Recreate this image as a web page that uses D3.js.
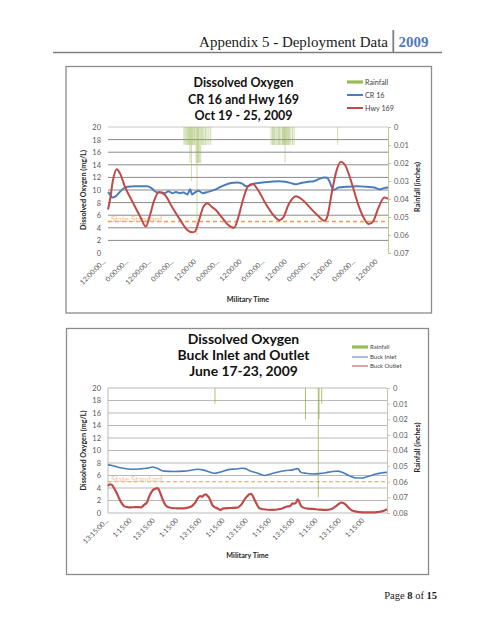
<!DOCTYPE html>
<html><head><meta charset="utf-8">
<script src="https://cdn.jsdelivr.net/npm/d3@7"></script>
<style>html,body{margin:0;padding:0;background:#fff;} svg{display:block}</style>
</head><body>
<svg id="page" width="495" height="640"></svg>
<script>
// ---------- DATA ----------
const headerText = "Appendix 5 - Deployment Data";
const headerYear = "2009";
const footerParts = [["Page ", false], ["8", true], [" of ", false], ["15", true]];

const doTicks = [0, 2, 4, 6, 8, 10, 12, 14, 16, 18, 20];
const stateStandard = 5;

// Chart 1: CR 16 and Hwy 169, Oct 19 - 25, 2009
const chart1Title = ["Dissolved Oxygen", "CR 16 and Hwy 169", "Oct 19 - 25, 2009"];
const chart1Legend = ["Rainfall", "CR 16", "Hwy 169"];
const rain1Ticks = [0, 0.01, 0.02, 0.03, 0.04, 0.05, 0.06, 0.07];
const time1Labels = ["12:00:00...", "0:00:00...", "12:00:00...", "0:00:00...", "12:00:00", "0:00:00...",
  "12:00:00", "0:00:00...", "12:00:00", "0:00:00...", "12:00:00", "0:00:00...", "12:00:00"];
const cr16Hours = [0, 1, 2.3, 4, 6, 8, 10.2, 14, 20.8, 23, 26, 28, 30, 32, 34, 36, 38, 40, 42, 43.5, 44.5, 46, 48, 50, 53,
  57, 61, 65, 68.4, 71, 73, 75, 77, 82, 90.5, 94, 98, 99.5, 102, 106, 109, 112, 114.5, 116, 117, 119.5, 122, 126, 132, 137, 141, 143.5, 146, 148.2];
const cr16DO = [9.7, 9.3, 8.8, 9.0, 9.6, 10.2, 10.5, 10.6, 10.6, 10.3, 9.6, 9.6, 9.5, 9.8, 9.5, 9.7, 9.5, 9.6, 9.3, 10.1, 9.3, 9.6, 9.9, 9.5, 9.7,
  10.1, 10.7, 11.1, 11.2, 11.0, 10.6, 10.7, 11.0, 11.2, 11.4, 11.3, 11.0, 10.9, 11.1, 11.3, 11.4, 11.8, 12.0, 11.95, 11.5, 10.0, 10.4, 10.5, 10.6, 10.5, 10.4, 10.1, 10.3, 10.4];
const hwy169Hours = [0, 1.1, 2.6, 4.6, 6.4, 9, 13.2, 17, 20, 22.2, 24.4, 27, 30.2, 33.9, 38.1, 41.8, 44.6, 46, 48.2, 50.3, 52.6, 55, 57.2,
  60.4, 63.5, 66.7, 68.8, 71.5, 74.1, 76.6, 79.4, 83.1, 86.8, 90.7, 92.7, 95.8, 99.5, 102.7, 106.9, 111.2, 114.5, 115.9, 118.6, 120.7,
  123.3, 125.4, 129.1, 132.3, 135.5, 138, 140.3, 142.9, 146.3, 148.2];
const hwy169DO = [6.9, 8.5, 11.5, 13.3, 12.6, 10.5, 8.0, 5.8, 4.2, 6.0, 8.3, 9.7, 9.2, 7.3, 5.3, 3.7, 3.3, 3.4, 5.2, 7.2, 7.9, 7.3, 6.8,
  5.6, 4.5, 4.0, 5.5, 8.5, 10.6, 10.95, 10.0, 8.0, 6.3, 5.2, 5.6, 7.8, 9.0, 8.5, 7.2, 5.9, 5.1, 5.6, 9.8, 12.8,
  14.5, 14.0, 11.0, 7.8, 5.5, 4.6, 5.0, 7.0, 8.8, 8.6];
const rain1Hours = [40.2, 40.8, 41.4, 42.0, 42.6, 43.0, 43.4, 43.8, 44.1, 44.6, 45.0, 45.6, 46.0, 46.6, 47.1, 47.5, 47.8, 48.3, 49.1,
  49.6, 50.2, 50.8, 51.6, 52.4, 53.4, 54.4,
  86.3, 87.0, 87.6, 88.2, 88.9, 89.5, 90.2, 90.8, 91.5, 92.2, 92.6, 93.0, 93.4, 93.7, 94.1, 94.5, 95.0, 95.5, 96.1, 96.8, 97.6, 98.5,
  121.6];
const rain1Inches = [0.01, 0.01, 0.01, 0.01, 0.01, 0.01, 0.02, 0.01, 0.03, 0.01, 0.01, 0.01, 0.01, 0.02, 0.06, 0.02, 0.02, 0.02, 0.02,
  0.01, 0.01, 0.01, 0.01, 0.01, 0.01, 0.01,
  0.01, 0.01, 0.01, 0.01, 0.01, 0.01, 0.01, 0.01, 0.01, 0.01, 0.01, 0.01, 0.01, 0.02, 0.01, 0.01, 0.01, 0.01, 0.01, 0.01, 0.01, 0.01,
  0.01];

// Chart 2: Buck Inlet and Outlet, June 17-23, 2009
const chart2Title = ["Dissolved Oxygen", "Buck Inlet and Outlet", "June 17-23, 2009"];
const chart2Legend = ["Rainfall", "Buck Inlet", "Buck Outlet"];
const rain2Ticks = [0, 0.01, 0.02, 0.03, 0.04, 0.05, 0.06, 0.07, 0.08];
const time2Labels = ["13:15:00...", "1:15:00", "13:15:00", "1:15:00", "13:15:00", "1:15:00",
  "13:15:00", "1:15:00", "13:15:00", "1:15:00", "13:15:00", "1:15:00"];
const inletHours = [0, 2, 4.8, 8, 11.7, 16, 20, 23.2, 25, 28.9, 34, 39.2, 43, 46.1, 49, 52, 54.7, 58, 61.6, 66, 69.3, 71, 73.1, 74.7,
  77, 80.7, 84, 88.4, 92, 95.3, 97.9, 99.6, 102, 105.7, 109, 112.5, 116, 118.6, 120.5, 122.8, 125, 128, 131, 133.2, 136, 138.3, 141, 144];
const inletDO = [7.7, 7.6, 7.35, 7.15, 7.0, 7.05, 7.15, 7.35, 7.2, 6.7, 6.65, 6.7, 6.85, 7.0, 6.9, 6.6, 6.35, 6.55, 6.9, 7.05, 7.15, 7.1, 6.75, 6.6,
  6.4, 6.0, 6.25, 6.6, 6.8, 6.9, 7.1, 6.5, 6.35, 6.25, 6.3, 6.45, 6.65, 6.7, 6.55, 6.25, 5.9, 5.6, 5.6, 5.75, 6.0, 6.25, 6.4, 6.5];
const outletHours = [0, 1, 2, 3.1, 4.5, 5.7, 7, 8.3, 10, 11.7, 14, 16.9, 18, 18.6, 19.5, 20.3, 21.2, 22, 23, 24.6, 25.5, 26.3, 27.2, 28,
  29, 30.6, 33, 36, 39.2, 41, 42.7, 44, 45.3, 46.2, 47, 47.8, 48.5, 49.5, 50.4, 51.2, 52.1, 53, 53.8, 55, 56.4, 57.3, 58.2, 59.2, 60,
  63, 66.7, 68, 69.3, 70.5, 71.9, 73, 73.8, 74.6, 75.5, 76.8, 78.1, 80, 85, 88, 90.2, 91.9, 93.9, 94.6, 95.3, 96, 97, 97.9, 98.7, 99.5,
  100.5, 103, 105.7, 109, 112.5, 115, 116.8, 118.5, 120.3, 121.5, 122.8, 124, 125.4, 127, 129.7, 133, 136.6, 139, 141.8, 144];
const outletDO = [4.3, 4.6, 4.5, 4.0, 3.2, 2.35, 1.6, 1.1, 0.95, 0.9, 0.95, 0.9, 1.1, 1.3, 1.5, 1.8, 2.6, 3.1, 3.6, 3.9, 4.0, 3.7, 3.0, 2.35,
  1.6, 1.0, 0.8, 0.75, 0.75, 0.85, 1.0, 1.3, 1.8, 2.3, 2.6, 2.7, 2.6, 2.85, 3.0, 2.8, 2.5, 1.9, 1.3, 0.95, 0.75, 0.6, 0.5, 0.7, 0.75,
  0.8, 0.85, 1.1, 1.55, 2.2, 2.7, 3.0, 3.05, 2.8, 2.2, 1.4, 0.75, 0.6, 0.5, 0.6, 0.75, 1.0, 1.1, 1.3, 1.55, 1.5, 1.65, 2.2, 1.8, 1.2,
  0.9, 0.7, 0.65, 0.55, 0.5, 0.6, 0.9, 1.3, 1.65, 1.6, 1.3, 0.9, 0.5, 0.3, 0.15, 0.1, 0.1, 0.15, 0.3, 0.6];
const rain2Hours = [55.2, 101.9, 108.5, 108.9, 110.3];
const rain2Inches = [0.01, 0.02, 0.07, 0.02, 0.01];

// ---------- DRAWING ----------
const svg = d3.select("#page");
const sansFont = "Lato, 'Open Sans', 'Liberation Sans', sans-serif";
const serifFont = "'Liberation Serif', 'DejaVu Serif', serif";

function fitSize(sel, targetWidth) {
  const base = parseFloat(sel.attr("font-size"));
  const w = sel.node().getComputedTextLength();
  const s = base * targetWidth / w;
  sel.attr("font-size", s);
  return s;
}

// Header
const hdr = svg.append("text").attr("x", 388).attr("y", 46.5).attr("text-anchor", "end")
  .attr("font-family", serifFont).attr("font-size", 15).attr("fill", "#1a1a1a").text(headerText);
const hs = fitSize(hdr, 189);
svg.append("line").attr("x1", 393.3).attr("x2", 393.3).attr("y1", 30).attr("y2", 52)
  .attr("stroke", "#7f7f7f").attr("stroke-width", 1.8);
svg.append("text").attr("x", 398.5).attr("y", 46.5).attr("font-family", serifFont)
  .attr("font-size", hs).attr("font-weight", "bold").attr("fill", "#4F7BB8").text(headerYear);
svg.append("line").attr("x1", 53).attr("x2", 442).attr("y1", 52.5).attr("y2", 52.5)
  .attr("stroke", "#7f7f7f").attr("stroke-width", 1.6);

// Footer
const ft = svg.append("text").attr("x", 437).attr("y", 599).attr("text-anchor", "end")
  .attr("font-family", serifFont).attr("font-size", 10.5).attr("fill", "#1a1a1a");
footerParts.forEach(([t, b]) => ft.append("tspan").attr("font-weight", b ? "bold" : "normal").text(t));

function drawChart(c) {
  const g = svg.append("g");
  g.append("rect").attr("x", c.frame[0]).attr("y", c.frame[1]).attr("width", c.frame[2]).attr("height", c.frame[3])
    .attr("fill", "#fff").attr("stroke", "#8c8c8c").attr("stroke-width", 1.3);

  const x = d3.scaleLinear().domain([0, c.hours]).range([c.left, c.right]);
  const y = d3.scaleLinear().domain([0, 20]).range([c.bottom, c.top]);
  const yR = d3.scaleLinear().domain([0, c.rainMax]).range([c.top, c.bottom]);

  // gridlines
  g.append("g").selectAll("line").data(doTicks.filter(d => c.gridZero || d > 0)).join("line")
    .attr("x1", c.left).attr("x2", c.right).attr("y1", d => y(d)).attr("y2", d => y(d))
    .attr("stroke", d => d === 20 ? c.gridTop : c.gridColor).attr("stroke-width", 1);

  if (c.leftLine) {
    g.append("line").attr("x1", c.left).attr("x2", c.left).attr("y1", c.top).attr("y2", c.bottom)
      .attr("stroke", c.gridColor).attr("stroke-width", 1);
  }

  // left axis labels
  const la = g.append("g").attr("transform", `translate(${c.left},0)`)
    .call(d3.axisLeft(y).tickValues(doTicks).tickSize(0).tickPadding(7).tickFormat(d3.format("d")));
  la.select(".domain").remove();
  la.selectAll("text").attr("font-family", sansFont).attr("font-size", 7.5).attr("fill", "#595959");

  // right axis
  const ra = g.append("g").attr("transform", `translate(${c.right},0)`)
    .call(d3.axisRight(yR).tickValues(c.rainTicks).tickSize(3).tickPadding(3)
      .tickFormat(d => d === 0 ? "0" : d3.format(".2f")(d)));
  ra.select(".domain").attr("stroke", c.rightAxisColor).attr("stroke-width", 1);
  ra.selectAll("line").attr("stroke", c.rightAxisColor);
  ra.selectAll("text").attr("font-family", sansFont).attr("font-size", 7.5).attr("fill", "#595959");

  // rain bars
  g.append("g").selectAll("rect").data(c.rainHours.map((h, i) => [h, c.rainInches[i]])).join("rect")
    .attr("x", d => x(d[0]) - c.barWidth / 2).attr("width", c.barWidth)
    .attr("y", yR(0)).attr("height", d => yR(d[1]) - yR(0))
    .attr("fill", "#8FB04A").attr("opacity", c.barOpacity);

  // state standard
  g.append("line").attr("x1", c.left).attr("x2", c.right).attr("y1", y(stateStandard)).attr("y2", y(stateStandard))
    .attr("stroke", c.stdColor).attr("stroke-width", c.stdWidth).attr("stroke-dasharray", c.stdDash);
  g.append("text").attr("x", c.left + 3).attr("y", y(stateStandard) + 0.5)
    .attr("font-family", sansFont).attr("font-size", 8).attr("fill", c.stdTextColor).text("State Standard");

  // series
  const line = d3.line().x(d => x(d[0])).y(d => y(d[1])).curve(d3.curveMonotoneX);
  c.series.forEach(s => {
    g.append("path").datum(s.hours.map((h, i) => [h, s.values[i]]))
      .attr("d", line).attr("fill", "none").attr("stroke", s.color).attr("stroke-width", s.width)
      .attr("stroke-linejoin", "round");
  });

  // x labels
  g.append("g").selectAll("text").data(c.timeLabels).join("text")
    .attr("transform", (d, i) => `translate(${x(i * 12) + c.labelOffset},${c.labelY}) rotate(-45)`)
    .attr("text-anchor", "end").attr("font-family", sansFont).attr("font-size", 7)
    .attr("fill", "#595959").text(d => d);

  // axis titles
  g.append("text").attr("transform", `translate(${c.leftTitleX},${(c.top + c.bottom) / 2}) rotate(-90)`)
    .attr("text-anchor", "middle").attr("font-family", sansFont).attr("font-size", 7.2).attr("font-weight", "bold")
    .attr("fill", "#262626").text("Dissolved Oxygen (mg/L)");
  g.append("text").attr("transform", `translate(${c.rightTitleX},${(c.top + c.bottom) / 2 - 3}) rotate(-90)`)
    .attr("text-anchor", "middle").attr("font-family", sansFont).attr("font-size", 7.2).attr("font-weight", "bold")
    .attr("fill", "#262626").text("Rainfall (inches)");
  g.append("text").attr("x", (c.left + c.right) / 2).attr("y", c.xTitleY).attr("text-anchor", "middle")
    .attr("font-family", sansFont).attr("font-size", 7.2).attr("font-weight", "bold").attr("fill", "#262626")
    .text("Military Time");

  // title
  const t0 = g.append("text").attr("x", 243.5).attr("y", c.titleY[0]).attr("text-anchor", "middle")
    .attr("font-family", sansFont).attr("font-size", 15).attr("font-weight", "bold").attr("fill", "#111")
    .text(c.title[0]);
  const ts = fitSize(t0, c.titleW);
  c.title.slice(1).forEach((t, i) => {
    g.append("text").attr("x", 243.5).attr("y", c.titleY[i + 1]).attr("text-anchor", "middle")
      .attr("font-family", sansFont).attr("font-size", ts).attr("font-weight", "bold").attr("fill", "#111").text(t);
  });

  // legend
  const lg = g.append("g");
  c.legend.forEach((name, i) => {
    const ly = c.legendY[i];
    if (i === 0) {
      lg.append("rect").attr("x", c.legendX).attr("y", ly - 1.6).attr("width", 16).attr("height", 3.2).attr("fill", "#9BBB59");
    } else {
      const s = c.series[i - 1];
      lg.append("line").attr("x1", c.legendX).attr("x2", c.legendX + 16).attr("y1", ly).attr("y2", ly)
        .attr("stroke", s.color).attr("stroke-width", c.legendLineW);
    }
    lg.append("text").attr("x", c.legendX + 18).attr("y", ly).attr("dy", "0.35em")
      .attr("font-family", sansFont).attr("font-size", c.legendFont).attr("fill", "#404040").text(name);
  });
}

drawChart({
  frame: [66, 66.5, 365.5, 246.5],
  left: 108, right: 388, top: 127, bottom: 253, hours: 148.2, rainMax: 0.07, rainTicks: rain1Ticks,
  gridColor: "#8a8a8a", gridTop: "#c8c8c8", gridZero: false, leftLine: false, rightAxisColor: "#b5cc8e",
  rainHours: rain1Hours, rainInches: rain1Inches, barWidth: 0.75, barOpacity: 0.6,
  stdColor: "#F39A4E", stdWidth: 1.5, stdDash: "4,3", stdTextColor: "#F6BC92",
  series: [
    { hours: cr16Hours, values: cr16DO, color: "#4A7EBB", width: 2 },
    { hours: hwy169Hours, values: hwy169DO, color: "#BE4B48", width: 2 }
  ],
  timeLabels: time1Labels, labelOffset: -2, labelY: 262,
  leftTitleX: 86, rightTitleX: 420, xTitleY: 301.5,
  title: chart1Title, titleY: [87.3, 103.8, 120], titleW: 100,
  legend: chart1Legend, legendX: 347, legendY: [82, 95, 108], legendFont: 7.2, legendLineW: 2
});

drawChart({
  frame: [66.5, 328.5, 362, 246],
  left: 108, right: 387, top: 388, bottom: 513, hours: 144, rainMax: 0.08, rainTicks: rain2Ticks,
  gridColor: "#b9b9b9", gridTop: "#b9b9b9", gridZero: true, leftLine: true, rightAxisColor: "#c0c8b0",
  rainHours: rain2Hours, rainInches: rain2Inches, barWidth: 0.9, barOpacity: 0.85,
  stdColor: "#E0A050", stdWidth: 1, stdDash: "4,2.5", stdTextColor: "#F4C49A",
  series: [
    { hours: inletHours, values: inletDO, color: "#4A7EBB", width: 1.6 },
    { hours: outletHours, values: outletDO, color: "#BE4B48", width: 2.2 }
  ],
  timeLabels: time2Labels, labelOffset: 1, labelY: 521,
  leftTitleX: 86, rightTitleX: 420, xTitleY: 557.5,
  title: chart2Title, titleY: [344, 359.5, 375.5], titleW: 111.5,
  legend: chart2Legend, legendX: 352, legendY: [347, 357, 366], legendFont: 6, legendLineW: 1
});
</script>
</body></html>
